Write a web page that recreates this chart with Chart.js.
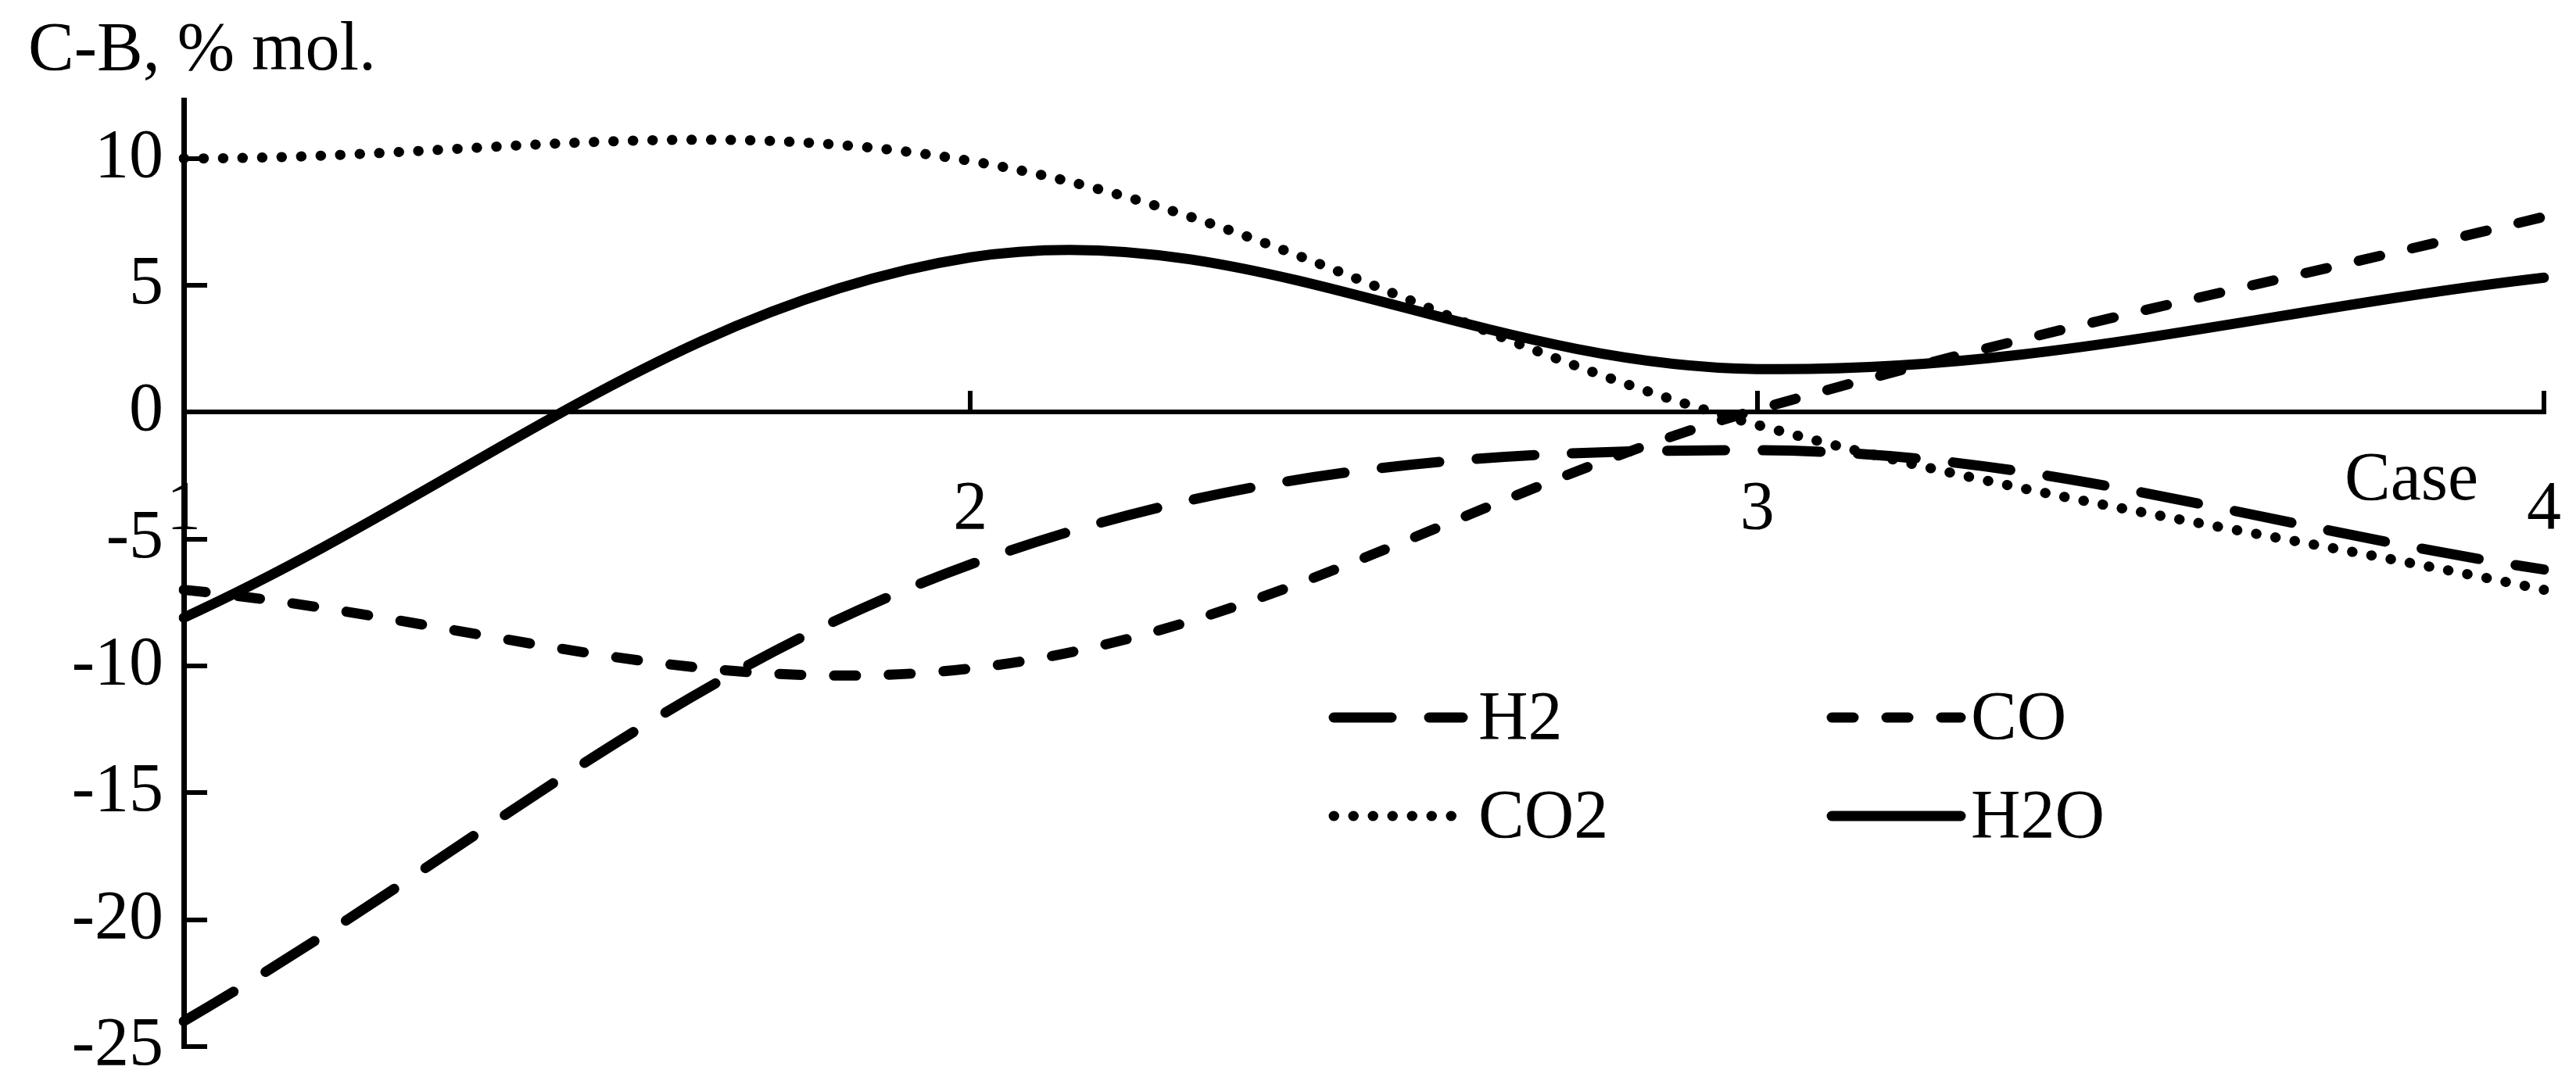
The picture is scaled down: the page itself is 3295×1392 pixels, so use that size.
<!DOCTYPE html>
<html>
<head>
<meta charset="utf-8">
<script src="https://cdn.jsdelivr.net/npm/chart.js@4.4.1/dist/chart.umd.min.js"></script>
<style>
  html, body { margin: 0; padding: 0; background: #fff; }
  #wrap { width: 3295px; height: 1392px; }
</style>
</head>
<body>
<div id="wrap"><canvas id="gasChart" width="3295" height="1392"></canvas></div>
<script>
// cases on the x axis
const cases = ['1', '2', '3', '4'];
// C-B difference, % mol.
const h2 = [-24, -6, -1.5, -6.2];
const co = [-7, -10.1, 0.1, 7.7];
const co2 = [10, 9.9, -0.5, -7];
const h2o = [-8.1, 6.1, 1.7, 5.3];
const yTicks = [-25, -20, -15, -10, -5, 0, 5, 10];

const FONT = '"Liberation Serif", "Times New Roman", serif';
const FSIZE = 88;

// draws the axis captions and the 2x2 legend from the dataset styles
const extras = {
    id: 'extras',
    afterDraw(chart) {
        const ctx = chart.ctx;
        ctx.save();
        ctx.fillStyle = '#000';
        ctx.font = FSIZE + 'px ' + FONT;
        ctx.textBaseline = 'middle';
        ctx.textAlign = 'left';
        ctx.fillText('C-B, % mol.', 36, 66);
        ctx.textAlign = 'right';
        ctx.fillText('Case', 3170, 616);

        const cols = [[1706, 1891], [2343, 2521]];
        const rows = [918, 1044];
        chart.data.datasets.forEach(function (ds, i) {
            const c = cols[i % 2];
            const y = rows[Math.floor(i / 2)];
            ctx.beginPath();
            ctx.lineWidth = ds.borderWidth;
            ctx.lineCap = 'round';
            ctx.setLineDash(ds.borderDash || []);
            ctx.moveTo(c[0], y);
            ctx.lineTo(c[0] + 165, y);
            ctx.stroke();
            ctx.setLineDash([]);
            ctx.textAlign = 'left';
            ctx.fillText(ds.label, c[1], y + 4);
        });
        ctx.restore();
    }
};

function series(label, data, dash) {
    return {
        label: label,
        data: data,
        borderColor: '#000',
        borderWidth: 13,
        borderDash: dash,
        borderCapStyle: 'round',
        tension: 0.36,
        pointRadius: 0,
        fill: false
    };
}

new Chart(document.getElementById('gasChart').getContext('2d'), {
    type: 'line',
    data: {
        labels: cases,
        datasets: [
            series('H2', h2, [74, 48]),
            series('CO', co, [28, 42]),
            series('CO2', co2, [0.5, 24.5]),
            series('H2O', h2o, [])
        ]
    },
    options: {
        responsive: false,
        animation: false,
        layout: { padding: { top: 128, bottom: 53, right: 41, left: 0 } },
        plugins: { legend: { display: false }, tooltip: { enabled: false } },
        scales: {
            x: {
                type: 'category',
                offset: false,
                position: { y: 0 },
                afterFit: function (axis) { axis.paddingLeft = 0; axis.paddingRight = 0; },
                grid: { drawOnChartArea: false, color: '#000', lineWidth: 6, tickLength: -30 },
                border: { color: '#000', width: 6 },
                ticks: { color: '#000', font: { family: FONT, size: FSIZE }, padding: 103, maxRotation: 0, autoSkip: false }
            },
            y: {
                min: -25,
                max: 12.3,
                afterBuildTicks: function (axis) {
                    axis.ticks = yTicks.map(function (v) { return { value: v }; });
                },
                afterFit: function (axis) { axis.width = 235; axis.paddingTop = 0; axis.paddingBottom = 0; },
                grid: { drawOnChartArea: false, color: '#000', lineWidth: 6, tickLength: -30 },
                border: { color: '#000', width: 7 },
                ticks: { color: '#000', font: { family: FONT, size: FSIZE }, padding: 56 }
            }
        }
    },
    plugins: [extras]
});
</script>
</body>
</html>
